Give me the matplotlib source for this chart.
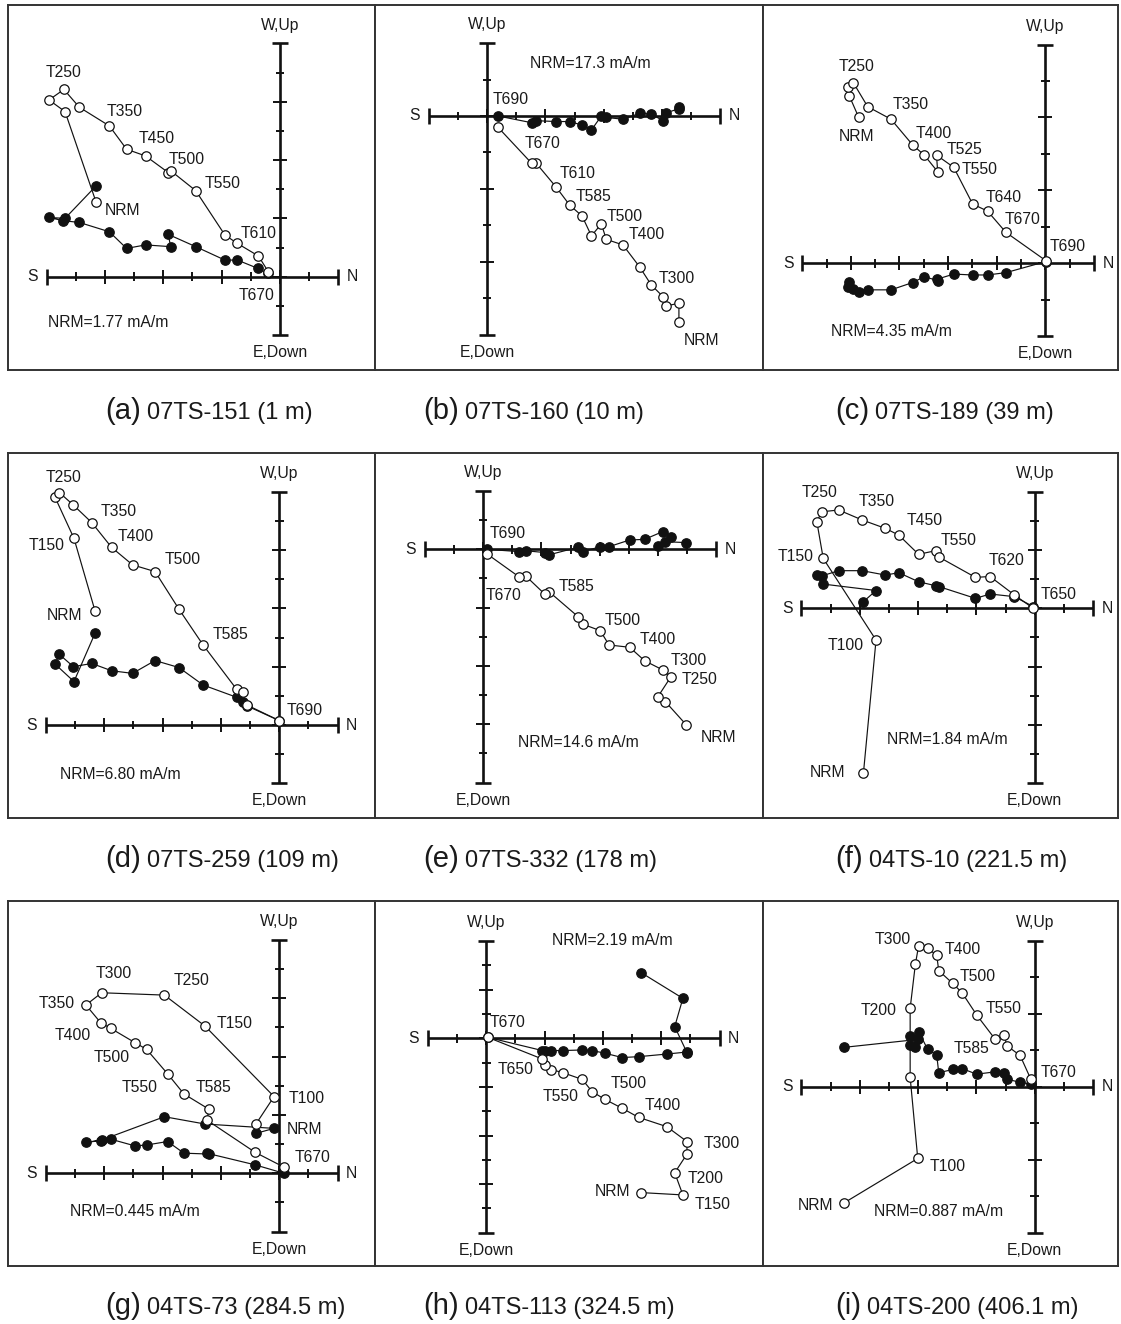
import matplotlib
matplotlib.use("Agg")
import matplotlib.pyplot as plt

plt.rcParams['font.family'] = ['Liberation Sans', 'DejaVu Sans']

W, H = 1121, 1324
U = 875 / 3 / 10.0   # pixels per data unit (axis length = 10 units)

# ---------------- data (units: axis length = 10) ----------------
a_open_x = [-6.31, -7.37, -7.92, -7.41, -6.88, -5.85, -5.26, -4.61, -3.83, -3.73, -2.89, -1.89, -1.46, -0.74, -0.40]
a_open_y = [2.57, 5.66, 6.06, 6.42, 5.81, 5.17, 4.37, 4.14, 3.57, 3.62, 2.95, 1.43, 1.14, 0.71, 0.17]
a_fill_x = [-6.31, -7.37, -7.92, -7.43, -6.88, -5.85, -5.26, -4.61, -3.75, -3.83, -2.89, -1.89, -1.46, -0.77, -0.40]
a_fill_y = [3.11, 2.00, 2.03, 1.92, 1.86, 1.54, 0.97, 1.09, 1.03, 1.45, 1.03, 0.57, 0.57, 0.29, 0.11]

b_open_x = [6.58, 6.58, 6.15, 6.03, 5.63, 5.23, 4.66, 4.09, 3.92, 3.58, 3.26, 2.83, 2.38, 1.67, 1.53, 0.38]
b_open_y = [-7.05, -6.42, -6.51, -6.19, -5.79, -5.17, -4.42, -4.23, -3.70, -4.11, -3.43, -3.05, -2.45, -1.60, -1.62, -0.39]
b_fill_x = [6.58, 6.58, 6.15, 6.03, 5.63, 5.23, 4.66, 4.09, 3.92, 3.58, 3.26, 2.83, 2.38, 1.67, 1.53, 0.38]
b_fill_y = [0.30, 0.25, 0.11, -0.16, 0.07, 0.09, -0.11, -0.05, 0.00, -0.48, -0.31, -0.19, -0.19, -0.16, -0.23, 0.00]

c_open_x = [-6.40, -6.72, -6.78, -6.58, -6.09, -5.29, -4.55, -4.15, -3.69, -3.73, -3.14, -2.49, -1.98, -1.35, 0.02]
c_open_y = [5.01, 5.74, 6.06, 6.19, 5.37, 4.94, 4.06, 3.71, 3.14, 3.71, 3.29, 2.03, 1.79, 1.06, 0.09]
c_fill_x = [-6.40, -6.72, -6.78, -6.58, -6.09, -5.29, -4.55, -4.15, -3.69, -3.73, -3.14, -2.49, -1.98, -1.35, 0.02]
c_fill_y = [-0.97, -0.63, -0.82, -0.89, -0.91, -0.91, -0.66, -0.46, -0.59, -0.55, -0.37, -0.40, -0.40, -0.32, 0.06]

d_open_x = [-6.32, -7.04, -7.69, -7.54, -7.06, -6.43, -5.75, -5.03, -4.26, -3.44, -2.61, -1.46, -1.26, -1.12, 0.00]
d_open_y = [3.92, 6.40, 7.81, 7.97, 7.54, 6.94, 6.09, 5.49, 5.26, 3.97, 2.74, 1.22, 1.14, 0.69, 0.15]
d_fill_x = [-6.32, -7.04, -7.69, -7.54, -7.06, -6.43, -5.75, -5.03, -4.26, -3.44, -2.61, -1.46, -1.26, -1.12, 0.00]
d_fill_y = [3.14, 1.49, 2.09, 2.42, 2.00, 2.11, 1.86, 1.77, 2.21, 1.97, 1.37, 0.95, 0.80, 0.66, 0.15]

e_open_x = [6.97, 6.25, 6.00, 6.43, 6.17, 5.54, 5.03, 4.32, 4.02, 3.43, 3.26, 2.26, 2.11, 1.46, 1.23, 0.14]
e_open_y = [-6.02, -5.22, -5.05, -4.39, -4.14, -3.82, -3.36, -3.28, -2.79, -2.57, -2.31, -1.45, -1.53, -0.91, -0.94, -0.16]
e_fill_x = [6.97, 6.25, 6.00, 6.43, 6.17, 5.54, 5.03, 4.32, 4.02, 3.43, 3.26, 2.26, 2.11, 1.46, 1.23, 0.14]
e_fill_y = [0.23, 0.26, 0.11, 0.43, 0.61, 0.34, 0.32, 0.09, 0.09, -0.08, 0.07, -0.19, -0.11, -0.05, -0.08, 0.00]

f_open_x = [-5.87, -5.44, -7.25, -7.47, -7.30, -6.72, -5.92, -5.12, -4.66, -3.98, -3.38, -3.27, -2.03, -1.53, -0.70, -0.05]
f_open_y = [-5.63, -1.09, 1.71, 2.97, 3.31, 3.37, 3.03, 2.74, 2.51, 1.85, 1.98, 1.75, 1.06, 1.09, 0.46, 0.00]
f_fill_x = [-5.87, -5.44, -7.25, -7.47, -7.30, -6.72, -5.92, -5.12, -4.66, -3.98, -3.38, -3.27, -2.03, -1.53, -0.70, -0.05]
f_fill_y = [0.23, 0.61, 0.83, 1.14, 1.11, 1.29, 1.29, 1.14, 1.22, 0.91, 0.77, 0.74, 0.34, 0.49, 0.40, 0.06]

g_open_x = [-0.80, -0.18, -2.55, -3.94, -6.09, -6.63, -6.13, -5.78, -4.95, -4.55, -3.83, -3.27, -2.40, -2.49, -0.83, 0.16]
g_open_y = [1.69, 2.63, 5.05, 6.11, 6.19, 5.77, 5.17, 4.97, 4.48, 4.25, 3.41, 2.72, 2.19, 1.83, 0.72, 0.21]
g_fill_x = [-0.80, -0.18, -2.55, -3.94, -6.09, -6.63, -6.13, -5.78, -4.95, -4.55, -3.83, -3.27, -2.40, -2.49, -0.83, 0.16]
g_fill_y = [1.37, 1.54, 1.69, 1.94, 1.14, 1.06, 1.12, 1.17, 0.94, 0.97, 1.09, 0.69, 0.66, 0.69, 0.29, 0.00]

h_open_x = [5.31, 6.74, 6.46, 6.88, 6.88, 6.19, 5.22, 4.66, 4.06, 3.63, 3.29, 2.63, 2.23, 2.00, 1.92, 0.06]
h_open_y = [-5.29, -5.37, -4.61, -3.97, -3.54, -3.03, -2.71, -2.40, -2.09, -1.83, -1.41, -1.18, -1.07, -0.91, -0.71, 0.03]
h_fill_x = [5.31, 6.74, 6.46, 6.88, 6.88, 6.19, 5.22, 4.66, 4.06, 3.63, 3.29, 2.63, 2.23, 2.00, 1.92, 0.06]
h_fill_y = [2.25, 1.37, 0.40, -0.49, -0.47, -0.54, -0.63, -0.66, -0.51, -0.42, -0.40, -0.42, -0.42, -0.42, -0.42, 0.03]

i_open_x = [-6.53, -4.01, -4.27, -4.27, -4.09, -3.98, -3.67, -3.36, -3.29, -2.81, -2.49, -1.99, -1.35, -1.04, -0.96, -0.50, -0.13]
i_open_y = [-3.98, -2.46, 0.32, 2.69, 4.21, 4.83, 4.74, 4.51, 3.98, 3.54, 3.22, 2.46, 1.62, 1.77, 1.41, 1.07, 0.25]
i_fill_x = [-6.53, -4.01, -4.27, -4.27, -4.09, -3.98, -3.67, -3.36, -3.29, -2.81, -2.49, -1.99, -1.35, -1.04, -0.96, -0.50, -0.13]
i_fill_y = [1.35, 1.62, 1.74, 1.43, 1.37, 1.89, 1.28, 1.09, 0.48, 0.59, 0.62, 0.43, 0.51, 0.48, 0.26, 0.15, 0.09]

# step labels
a_labels = ["T250", "T350", "T450", "T500", "T550", "NRM", "T610", "T670"]
b_labels = ["T690", "T670", "T610", "T585", "T500", "T400", "T300", "NRM"]
c_labels = ["T250", "T350", "NRM", "T400", "T525", "T550", "T640", "T670", "T690"]
d_labels = ["T250", "T350", "T400", "T150", "T500", "NRM", "T585", "T690"]
e_labels = ["T690", "T670", "T585", "T500", "T400", "T300", "T250", "NRM"]
f_labels = ["T250", "T350", "T450", "T550", "T620", "T150", "T650", "T100", "NRM"]
g_labels = ["T300", "T250", "T350", "T150", "T400", "T500", "T550", "T585", "T100", "NRM", "T670"]
h_labels = ["T670", "T650", "T550", "T500", "T400", "T300", "T200", "NRM", "T150"]
i_labels = ["T300", "T400", "T500", "T200", "T550", "T585", "T670", "T100", "NRM"]

nrm_texts = ["NRM=1.77 mA/m", "NRM=17.3 mA/m", "NRM=4.35 mA/m", "NRM=6.80 mA/m", "NRM=14.6 mA/m",
             "NRM=1.84 mA/m", "NRM=0.445 mA/m", "NRM=2.19 mA/m", "NRM=0.887 mA/m"]
caption_ids = ["(a)", "(b)", "(c)", "(d)", "(e)", "(f)", "(g)", "(h)", "(i)"]
caption_texts = ["07TS-151 (1 m)", "07TS-160 (10 m)", "07TS-189 (39 m)", "07TS-259 (109 m)",
                 "07TS-332 (178 m)", "04TS-10 (221.5 m)", "04TS-73 (284.5 m)", "04TS-113 (324.5 m)",
                 "04TS-200 (406.1 m)"]

# ---------------- layout (positions of labels, boxes, axes) ----------------
a_lpos = [(-7.43, 6.99), (-5.31, 5.66), (-4.23, 4.74), (-3.2, 4.02), (-1.97, 3.18), (-5.39, 2.26), (-0.74, 1.49), (-0.82, -0.66)]
b_lpos = [(0.8, 0.57), (1.92, -0.96), (3.09, -1.97), (3.66, -2.77), (4.72, -3.43), (5.49, -4.08), (6.51, -5.57), (7.35, -7.70)]
c_lpos = [(-6.46, 6.74), (-4.61, 5.43), (-6.49, 4.34), (-3.84, 4.46), (-2.78, 3.89), (-2.26, 3.20), (-1.41, 2.26), (-0.78, 1.49), (0.77, 0.57)]
d_lpos = [(-7.41, 8.49), (-5.52, 7.31), (-4.91, 6.46), (-7.98, 6.14), (-3.31, 5.68), (-7.35, 3.77), (-1.69, 3.09), (0.88, 0.49)]
e_lpos = [(0.86, 0.53), (0.71, -1.57), (3.22, -1.26), (4.78, -2.45), (6.00, -3.09), (7.05, -3.82), (7.43, -4.46), (8.06, -6.45)]
f_lpos = [(-7.36, 3.97), (-5.42, 3.66), (-3.78, 3.01), (-2.61, 2.34), (-0.96, 1.63), (-8.18, 1.77), (0.82, 0.46), (-6.47, -1.29), (-7.10, -5.63)]
g_lpos = [(-5.69, 6.86), (-3.01, 6.61), (-7.63, 5.83), (-1.52, 5.14), (-7.09, 4.71), (-5.75, 3.98), (-4.78, 2.95), (-2.26, 2.95), (0.94, 2.57), (0.88, 1.51), (1.14, 0.55)]
h_lpos = [(0.74, 0.54), (1.01, -1.06), (2.54, -1.98), (4.89, -1.54), (6.06, -2.32), (8.06, -3.62), (7.52, -4.80), (4.34, -5.26), (7.77, -5.71)]
i_lpos = [(-4.87, 5.05), (-2.47, 4.71), (-1.95, 3.79), (-5.35, 2.61), (-1.07, 2.69), (-2.18, 1.31), (0.82, 0.48), (-2.98, -2.72), (-7.50, -4.06)]
nrm_pos = [(-5.89, -1.58), (3.54, 1.81), (-5.29, -2.34), (-5.46, -1.71), (3.28, -6.63),
           (-2.98, -4.51), (-4.95, -1.31), (4.32, 3.35), (-3.29, -4.29)]

col_edges = [(8, 375), (375, 763), (763, 1118)]
row_edges = [(5, 370), (453, 818), (901, 1266)]
origins = [(280, 276.7), (487, 116), (1045.3, 263.3),
           (279.3, 725), (483, 549.3), (1034.7, 608.3),
           (279.3, 1173.3), (486.3, 1038.3), (1034.7, 1086.7)]
# tick intervals: (left, right, up, down)
ticks = [(8, 2, 8, 2), (2, 8, 2, 6), (10, 2, 6, 2),
         (8, 2, 8, 2), (2, 8, 2, 8), (8, 2, 4, 6),
         (8, 2, 8, 2), (2, 8, 4, 8), (8, 2, 4, 4)]
caption_x = [105, 423, 835]
caption_base = [419, 867, 1314]

series = [
    (a_open_x, a_open_y, a_fill_x, a_fill_y, a_labels, a_lpos),
    (b_open_x, b_open_y, b_fill_x, b_fill_y, b_labels, b_lpos),
    (c_open_x, c_open_y, c_fill_x, c_fill_y, c_labels, c_lpos),
    (d_open_x, d_open_y, d_fill_x, d_fill_y, d_labels, d_lpos),
    (e_open_x, e_open_y, e_fill_x, e_fill_y, e_labels, e_lpos),
    (f_open_x, f_open_y, f_fill_x, f_fill_y, f_labels, f_lpos),
    (g_open_x, g_open_y, g_fill_x, g_fill_y, g_labels, g_lpos),
    (h_open_x, h_open_y, h_fill_x, h_fill_y, h_labels, h_lpos),
    (i_open_x, i_open_y, i_fill_x, i_fill_y, i_labels, i_lpos),
]

TXT = '#1a1a1a'
FS = 11.3
fig = plt.figure(figsize=(W / 100, H / 100), dpi=100)
fig.patch.set_facecolor('white')

CAP, MAJ, MIN = 0.27, 0.24, 0.15


def draw_cross(ax, nl, nr, nu, nd):
    sh = 10.0 / (nl + nr)
    sv = 10.0 / (nu + nd)
    kw = dict(color='#111111', lw=1.9, solid_capstyle='butt', zorder=2)
    tk = dict(color='#111111', lw=1.4, solid_capstyle='butt', zorder=2)
    x0, x1 = -nl * sh, nr * sh
    ax.plot([x0, x1], [0, 0], **kw)
    n = nl + nr
    for k in range(n + 1):
        x = x0 + k * sh
        hl = CAP if k in (0, n) else (MAJ if k % 2 == 0 else MIN)
        ax.plot([x, x], [-hl, hl], **(kw if k in (0, n) else tk))
    y0, y1 = nu * sv, -nd * sv
    ax.plot([0, 0], [y0, y1], **kw)
    n = nu + nd
    for k in range(n + 1):
        y = y0 - k * sv
        hl = CAP if k in (0, n) else (MAJ if k % 2 == 0 else MIN)
        ax.plot([-hl, hl], [y, y], **(kw if k in (0, n) else tk))
    ax.text(0, y0 + 0.62, "W,Up", ha='center', va='center', fontsize=FS, color=TXT)
    ax.text(0, y1 - 0.6, "E,Down", ha='center', va='center', fontsize=FS, color=TXT)
    ax.text(x0 - 0.48, 0, "S", ha='center', va='center', fontsize=FS, color=TXT)
    ax.text(x1 + 0.48, 0, "N", ha='center', va='center', fontsize=FS, color=TXT)


for idx in range(9):
    r, c = divmod(idx, 3)
    bx0, bx1 = col_edges[c]
    by0, by1 = row_edges[r]
    ox, oy = origins[idx]
    ax = fig.add_axes([bx0 / W, 1 - by1 / H, (bx1 - bx0) / W, (by1 - by0) / H])
    ax.set_xlim((bx0 - ox) / U, (bx1 - ox) / U)
    ax.set_ylim((oy - by1) / U, (oy - by0) / U)
    ax.set_xticks([])
    ax.set_yticks([])
    for sp in ax.spines.values():
        sp.set_linewidth(1.4)
        sp.set_color('#333333')
    nl, nr, nu, nd = ticks[idx]
    draw_cross(ax, nl, nr, nu, nd)
    ox_, oy_, fx_, fy_, labs, lpos = series[idx]
    ax.plot(fx_, fy_, '-', color='#111111', lw=0.85, zorder=3)
    ax.plot(ox_, oy_, '-', color='#111111', lw=0.85, zorder=3)
    ax.plot(fx_, fy_, 'o', ms=6.8, mfc='#111111', mec='#111111', mew=0.9, zorder=4)
    ax.plot(ox_, oy_, 'o', ms=6.8, mfc='white', mec='#111111', mew=0.9, zorder=5)
    for t, (lx, ly) in zip(labs, lpos):
        ax.text(lx, ly, t, ha='center', va='center', fontsize=FS, color=TXT, zorder=6)
    nx, ny = nrm_pos[idx]
    ax.text(nx, ny, nrm_texts[idx], ha='center', va='center', fontsize=FS, color=TXT, zorder=6)

renderer = fig.canvas.get_renderer()
for idx in range(9):
    r, c = divmod(idx, 3)
    xs = caption_x[c]
    yb = caption_base[r]
    t1 = fig.text(xs / W, 1 - yb / H, caption_ids[idx], fontsize=21, ha='left', va='baseline', color=TXT)
    bb = t1.get_window_extent(renderer)
    fig.text((bb.x1 + 6) / W, 1 - yb / H, caption_texts[idx], fontsize=17, ha='left', va='baseline', color=TXT)

fig.savefig("out.png", dpi=100, facecolor='white')
